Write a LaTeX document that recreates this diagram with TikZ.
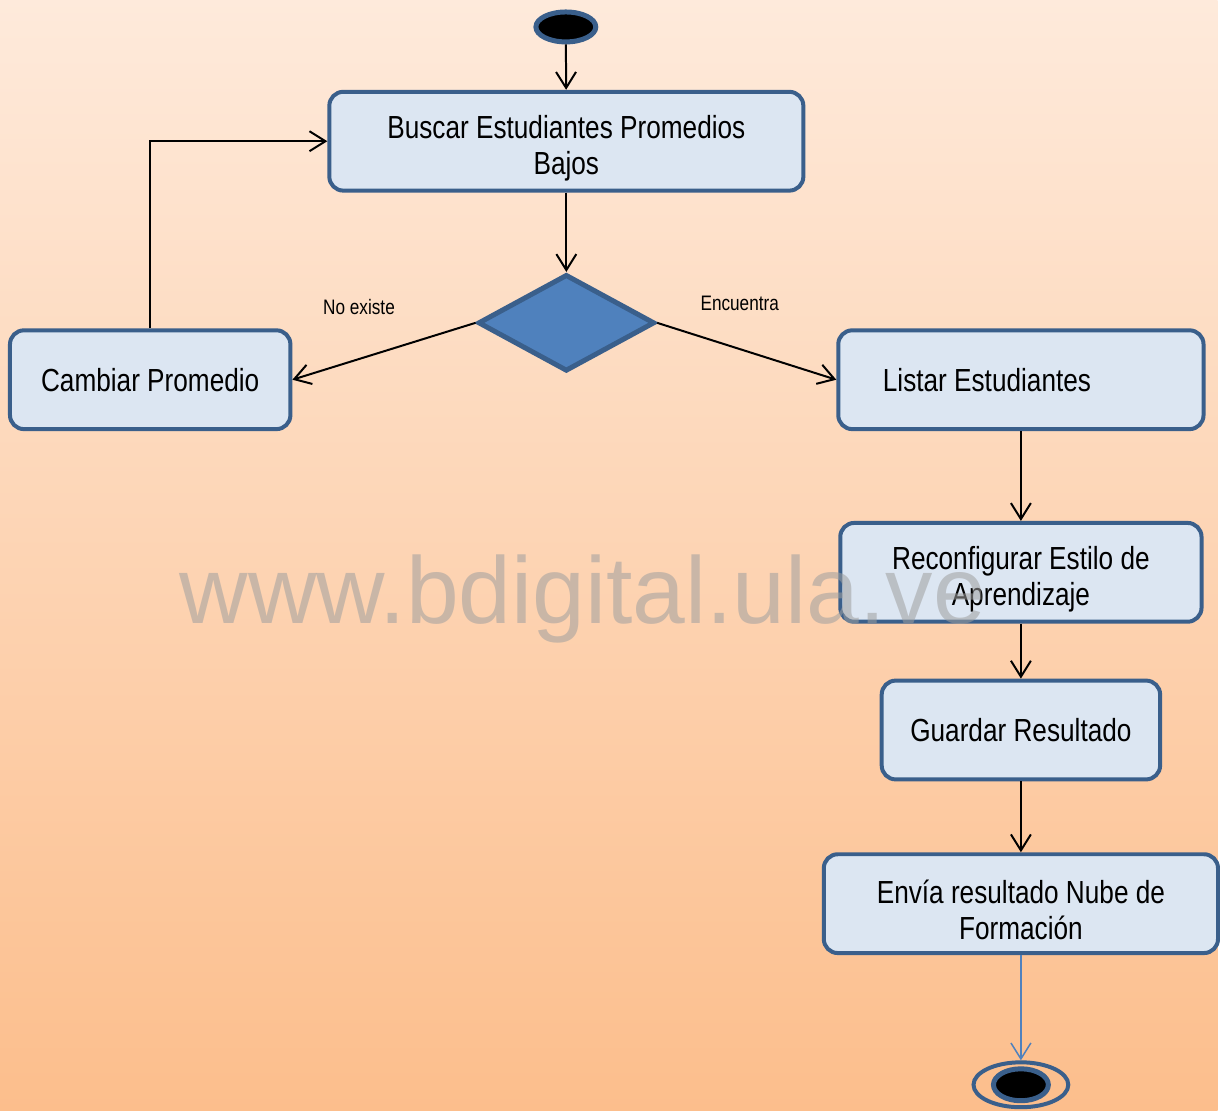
\documentclass[tikz,border=0pt]{standalone}
\usepackage{fontspec}
\setmainfont{Liberation Sans}[FakeStretch=0.82]
\newfontfamily\wmfont{Liberation Sans}
\usepackage{tikz}
\usetikzlibrary{positioning, shapes.geometric, arrows.meta}

\definecolor{boxfill}{HTML}{DCE6F2}
\definecolor{boxline}{HTML}{3A5F8B}
\definecolor{decfill}{HTML}{4F81BD}
\definecolor{bgtop}{HTML}{FEEADB}
\definecolor{bgbottom}{HTML}{FCBE8C}

\begin{document}
\begin{tikzpicture}[x=0.5pt, y=-0.5pt]
    % Define styles
    \tikzset{
        every node/.style={font=\fontsize{16}{18}\selectfont},
        activity/.style={rectangle, draw=boxline, fill=boxfill, line width=2pt, rounded corners=7pt, align=center, minimum height=49.5pt, inner sep=0pt},
        twoline/.style={text height=36.5pt},
        decision/.style={diamond, draw=boxline, fill=decfill, line width=2.5pt, minimum width=88.5pt, minimum height=48.5pt, inner sep=0pt},
        startend/.style={ellipse, draw=boxline, line width=2.5pt, inner sep=0pt},
        guard/.style={font=\fontsize{10.5}{12}\selectfont},
        arrow/.style={-{Straight Barb[length=8pt, width=10pt]}, line width=1pt}
    }

    % Background
    \shade[top color=bgtop, bottom color=bgbottom] (0,0) rectangle (1220,1113);

    % Start and search
    \node (I) [startend, fill=black, minimum width=30pt, minimum height=15pt] at (567,27) {};
    \node (B) [activity, twoline, minimum width=237.5pt] at (567.5,141.5) {Buscar Estudiantes Promedios\\Bajos};
    \node (D) [decision] at (567.5,323.5) {};

    % Left branch
    \node (CP) [activity, minimum width=140.5pt] at (150.5,380.5) {Cambiar Promedio};

    % Right branch
    \node (L) [activity, minimum width=183pt] at (1023,380.5) {Listar Estudiantes\kern34pt};
    \node (R) [activity, twoline, minimum width=181pt, below=45pt of L] {Reconfigurar Estilo de\\Aprendizaje};
    \node (G) [activity, minimum width=139.5pt, below=27.5pt of R] {Guardar Resultado};
    \node (E) [activity, twoline, minimum width=197.5pt, below=35.5pt of G] {Envía resultado Nube de\\Formación};

    % End
    \node (F) [startend, line width=2pt, minimum width=47.5pt, minimum height=22.5pt] at (1023,1087) {};
    \node (F1) [startend, fill=black, minimum width=27.5pt, minimum height=16pt] at (F) {};

    % Arrows between nodes
    \draw [arrow] (I) -- (B);
    \draw [arrow] (B) -- (D.north);
    \draw [arrow] (D.west) -- (CP.east) node[midway, guard, xshift=-12.5pt, yshift=22pt] {No existe};
    \draw [arrow] (D.east) -- (L.west) node[midway, guard, xshift=-3.5pt, yshift=24pt] {Encuentra};
    \draw [arrow] (CP.north) |- (B.west);
    \draw [arrow] (L) -- (R);
    \draw [arrow] (R) -- (G);
    \draw [arrow] (G) -- (E);
    \draw [arrow, draw=decfill, line width=0.75pt] (E) -- (F);

    % Watermark
    \node (W) [anchor=base, font=\wmfont\fontsize{47.5}{50}\selectfont, text=gray!75, opacity=0.55] at (584,625) {www.bdigital.ula.ve};

\end{tikzpicture}
\end{document}
